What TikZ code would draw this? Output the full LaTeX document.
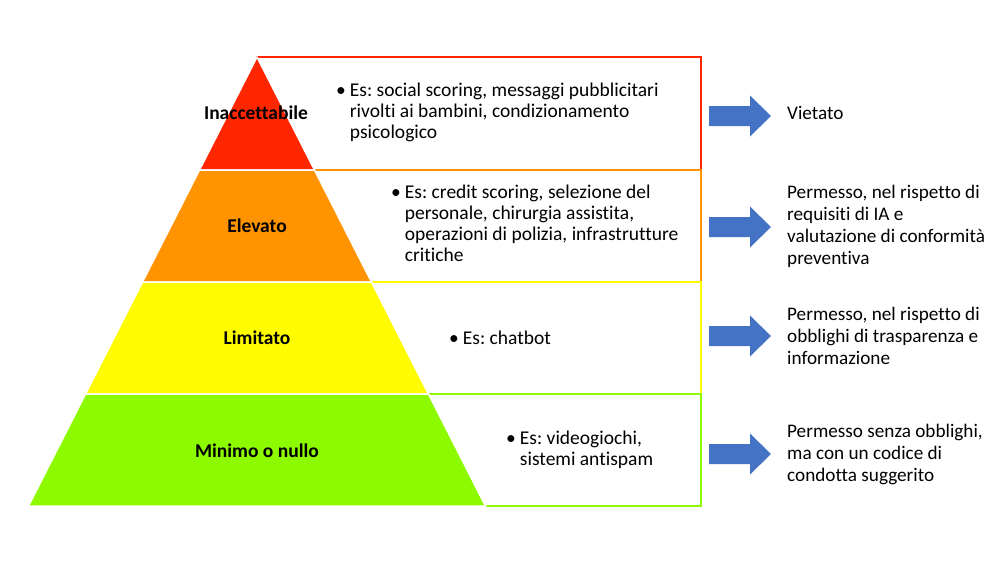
\documentclass[tikz,border=0pt]{standalone}
\usepackage{fontspec}
\setmainfont{Carlito}[Ligatures=NoCommon]
\frenchspacing
\definecolor{cred}{HTML}{FF2600}
\definecolor{corange}{HTML}{FF9300}
\definecolor{cyellow}{HTML}{FFFB00}
\definecolor{cgreen}{HTML}{8EFA00}
\definecolor{cblue}{HTML}{4472C4}
\begin{document}
\begin{tikzpicture}[x=1pt,y=-1pt,
  every node/.style={inner sep=0pt, font=\fontsize{19.5}{21}\selectfont},
  lvl/.style={font=\fontsize{19.5}{21}\selectfont\bfseries},
  desc/.style={anchor=west},
  res/.style={anchor=west, align=left, font=\fontsize{19.2}{22}\selectfont},
  band/.style={draw=white, line width=1.5pt},
  boxline/.style={line width=1.1pt},
  blockarrow/.pic={\fill[cblue] (0,-10) -- (41,-10) -- (41,-20.5) -- (62,0) -- (41,20.5) -- (41,10) -- (0,10) -- cycle;}]
\useasboundingbox (0,0) rectangle (1002,562);
\fill[white] (0,0) rectangle (1002,562);
% boxes
\draw[boxline, cred] (257,57) rectangle (701,170);
\draw[boxline, corange] (257,170) rectangle (701,282);
\draw[boxline, cyellow] (257,282) rectangle (701,394);
\draw[boxline, cgreen] (257,394) rectangle (701,506);
% pyramid
\filldraw[band, fill=cred] (257,57) -- (314.5,170) -- (199.5,170) -- cycle;
\filldraw[band, fill=corange] (199.5,170) -- (314.5,170) -- (371.5,282) -- (142.5,282) -- cycle;
\filldraw[band, fill=cyellow] (142.5,282) -- (371.5,282) -- (428.5,394) -- (85.5,394) -- cycle;
\filldraw[band, fill=cgreen] (85.5,394) -- (428.5,394) -- (485.5,506) -- (28.5,506) -- cycle;
% level labels
\node[lvl] (l1) at (256,113) {Inaccettabile};
\node[lvl] (l2) at (257,226) {Elevato};
\node[lvl] (l3) at (257,338) {Limitato};
\node[lvl] (l4) at (257,451) {Minimo o nullo};
% descriptions
\node[desc] (d1) at (336,113) {\textbullet\hspace{4pt}\begin{tabular}[t]{@{}l@{}}Es: social scoring, messaggi pubblicitari\\rivolti ai bambini, condizionamento\\psicologico\end{tabular}};
\node[desc] (d2) at (391,226) {\textbullet\hspace{4pt}\begin{tabular}[t]{@{}l@{}}Es: credit scoring, selezione del\\personale, chirurgia assistita,\\operazioni di polizia, infrastrutture\\critiche\end{tabular}};
\node[desc] (d3) at (449,338) {\textbullet\hspace{4pt}Es: chatbot};
\node[desc] (d4) at (506,451) {\textbullet\hspace{4pt}\begin{tabular}[t]{@{}l@{}}Es: videogiochi,\\sistemi antispam\end{tabular}};
% arrows
\pic at (709,116) {blockarrow};
\pic at (709,227) {blockarrow};
\pic at (709,336) {blockarrow};
\pic at (709,454) {blockarrow};
% results
\node[res] (r1) at (787,113) {Vietato};
\node[res] (r2) at (787,226) {Permesso, nel rispetto di\\requisiti di IA e\\valutazione di conformità\\preventiva};
\node[res] (r3) at (787,336) {Permesso, nel rispetto di\\obblighi di trasparenza e\\informazione};
\node[res] (r4) at (787,454) {Permesso senza obblighi,\\ma con un codice di\\condotta suggerito};
\end{tikzpicture}
\end{document}
